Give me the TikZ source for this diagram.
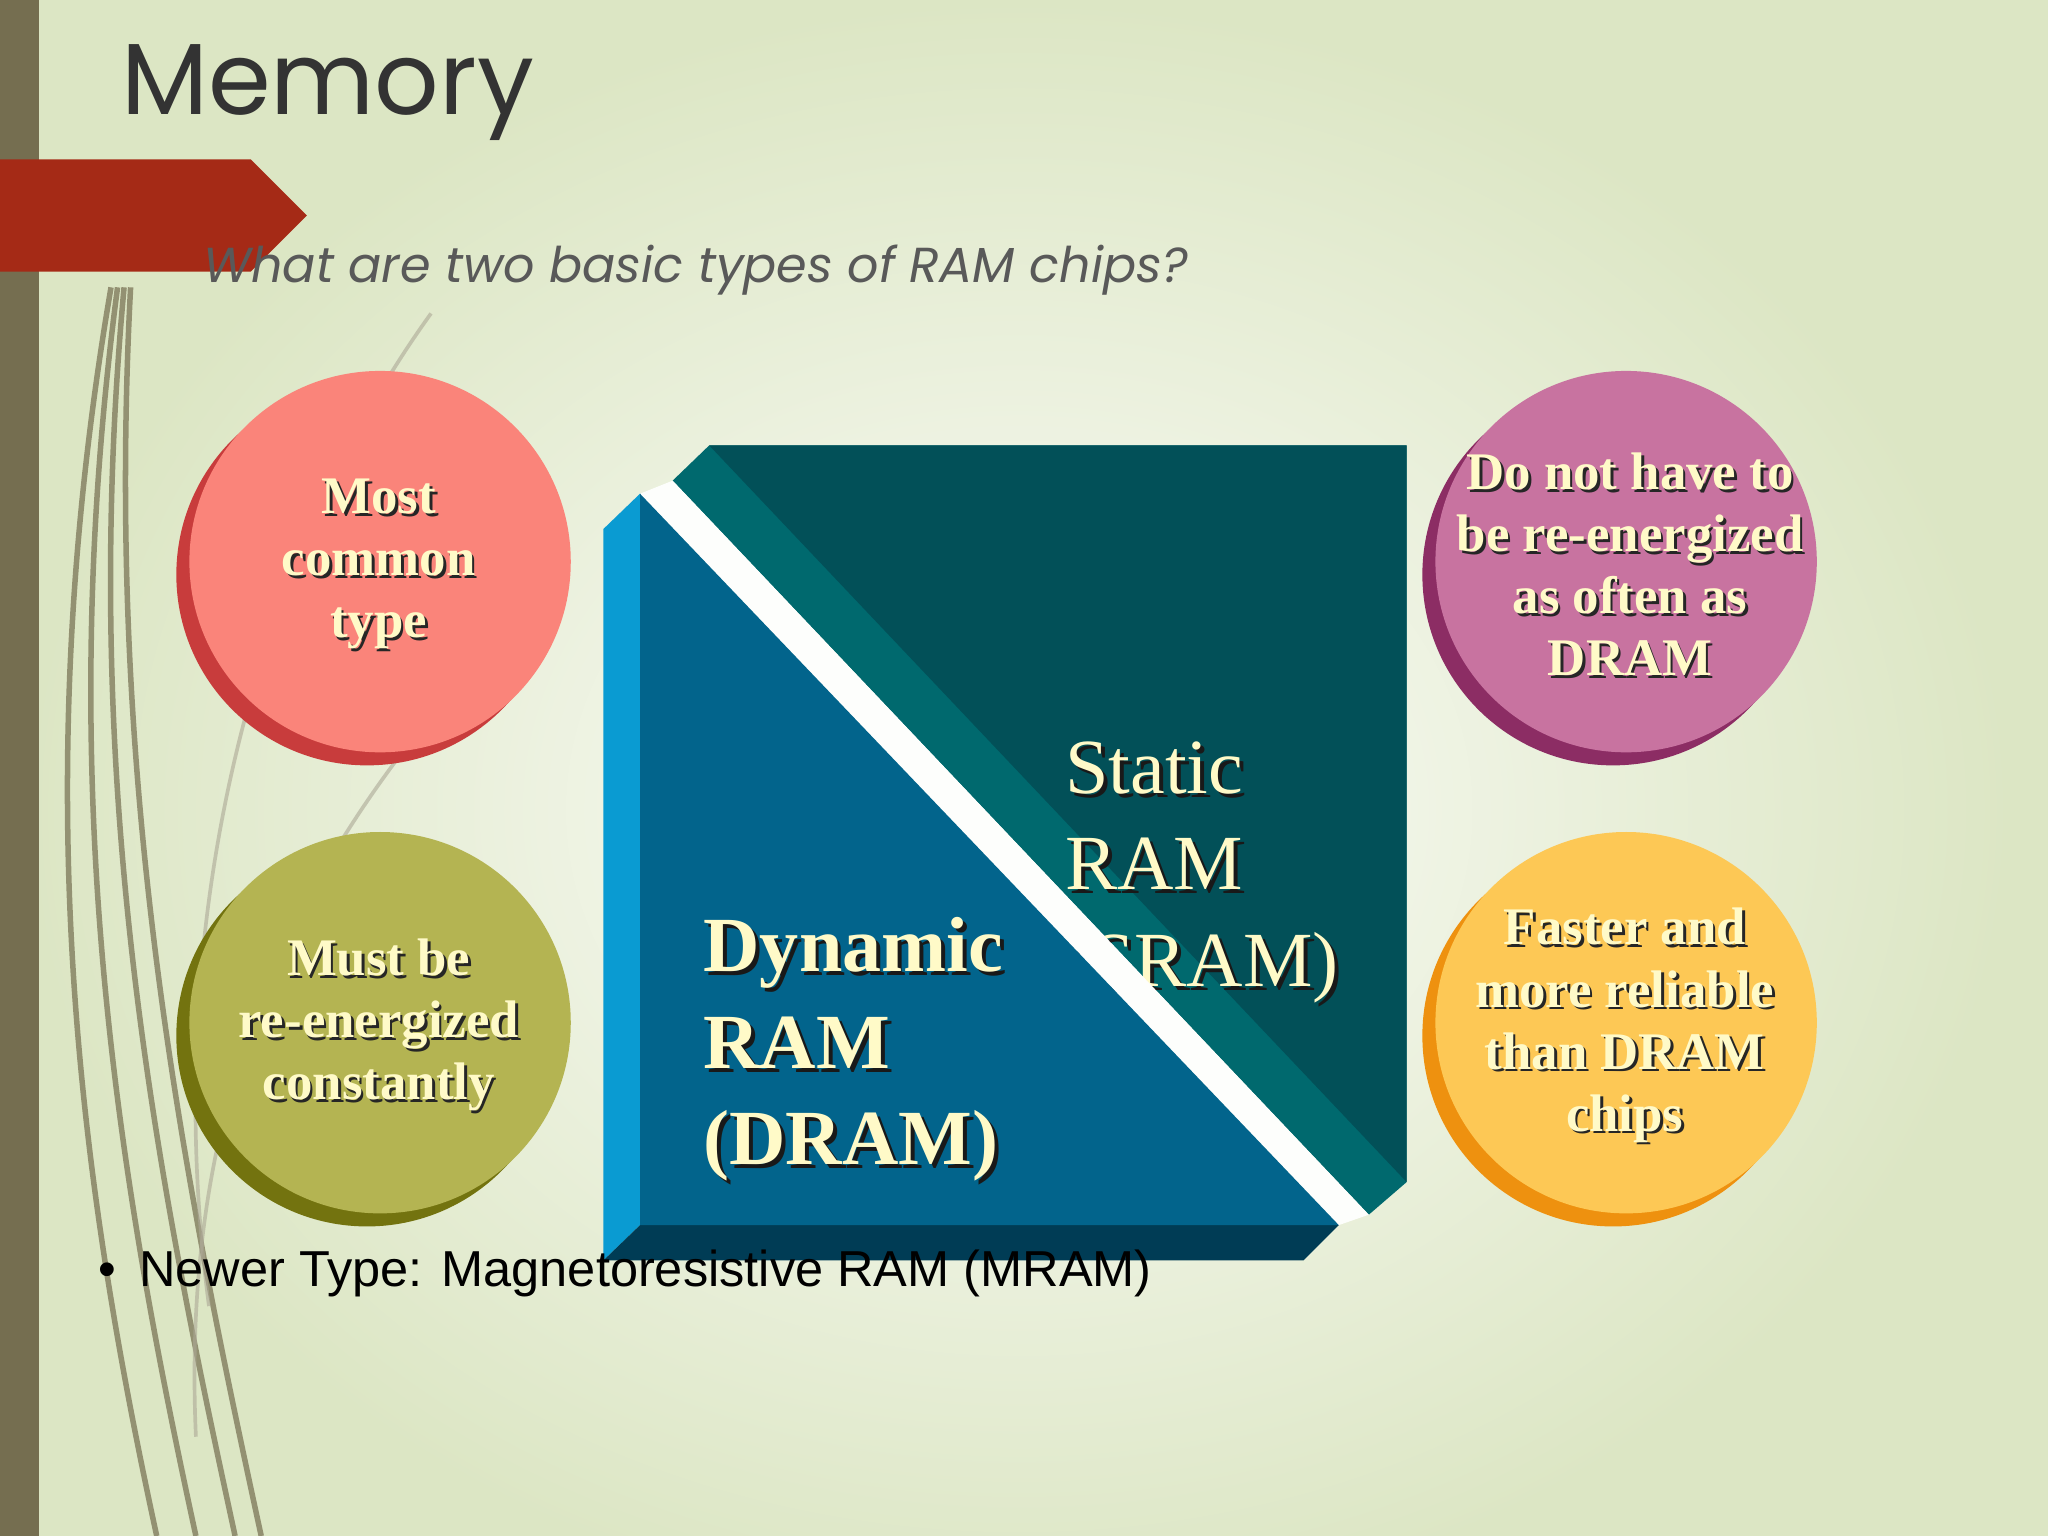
\documentclass[tikz,border=0pt]{standalone}
\usepackage{fontspec}
\setmainfont{Liberation Serif}
\setsansfont{Liberation Sans}
\newfontfamily\titlefont{Poppins}
\usetikzlibrary{shapes.geometric}
\definecolor{bgc}{RGB}{220,230,196}
\definecolor{barc}{RGB}{117,110,80}
\definecolor{redc}{RGB}{165,42,22}
\definecolor{cream}{RGB}{255,250,200}
\definecolor{pinkc}{RGB}{250,132,122}\definecolor{pinkd}{RGB}{200,60,60}
\definecolor{olc}{RGB}{180,180,82}\definecolor{old}{RGB}{115,115,15}
\definecolor{puc}{RGB}{200,115,160}\definecolor{pud}{RGB}{140,45,100}
\definecolor{yec}{RGB}{253,200,85}\definecolor{yed}{RGB}{238,145,15}
\definecolor{teal1}{RGB}{2,80,88}\definecolor{teal2}{RGB}{0,105,110}
\definecolor{blue1}{RGB}{2,100,140}\definecolor{blue2}{RGB}{10,155,210}\definecolor{blue3}{RGB}{0,60,85}
\tikzset{
 ct/.style={font=\bfseries\fontsize{11.5}{13.5}\selectfont, text=cream, align=center},
 cs/.style={font=\bfseries\fontsize{11.5}{13.5}\selectfont, text=black!85, align=center},
 bt/.style={font=\fontsize{17}{21}\selectfont, text=cream, align=left, anchor=north west, inner sep=0},
 bs/.style={font=\fontsize{17}{21}\selectfont, text=black!90, align=left, anchor=north west, inner sep=0},
}
\newcommand{\ballx}[5]{%
 \fill[#5] (#1+#2-7,#3+8) circle (146);
 \fill[#4] (#1+#2+3,#3-2) circle (146);}
\begin{document}
\begin{tikzpicture}[x=0.01cm,y=-0.01cm]
\useasboundingbox (0,0) rectangle (1568,1176);
\fill[bgc] (0,0) rectangle (1568,1176);
\shade[inner color=white!92!bgc, outer color=bgc] (780,620) ellipse (760 and 620);
% left strands
\foreach \a/\b/\c in {90/40/150, 85/20/120, 95/60/180, 100/80/200}{
 \draw[barc,line width=1.2pt,opacity=0.7] (\a,220) .. controls (\b,600) and (\c-60,900) .. (\c,1176);}
\draw[barc!60,line width=0.8pt,opacity=0.6] (330,240) .. controls (200,420) and (120,700) .. (160,1000);
\draw[barc!60,line width=0.8pt,opacity=0.6] (305,580) .. controls (200,720) and (140,880) .. (150,1100);
\fill[barc] (0,0) rectangle (30,1176);
\fill[redc] (0,122) -- (192,122) -- (235,165) -- (192,208) -- (0,208) -- cycle;
\node[anchor=base west,inner sep=0,font=\titlefont\fontsize{22}{26}\selectfont,text=black!80] (title) at (92,88) {Memory};
\node[anchor=base west,inner sep=0,font=\titlefont\itshape\fontsize{10.7}{13}\selectfont,text=black!65] (sub) at (155,216) {What are two basic types of RAM chips?};
% circles
\ballx{288}{0}{432}{pinkc}{pinkd}
\ballx{288}{0}{785}{olc}{old}
\ballx{1242}{0}{432}{puc}{pud}
\ballx{1242}{0}{785}{yec}{yed}
% teal triangle
\fill[teal2] (515,368) -- (543,341) -- (1077,341) -- (1077,905) -- (1048,930) -- cycle;
\fill[teal1] (543,341) -- (1077,341) -- (1077,905) -- cycle;
\node[bs] at (818,570) {Static\\RAM\\(SRAM)};
\node[bt] (sram) at (815,567) {Static\\RAM\\(SRAM)};
% white gap
\fill[white!95!bgc] (490,378) -- (515,368) -- (1048,930) -- (1025,938) -- cycle;
% blue triangle
\fill[blue2] (462,405) -- (490,378) -- (490,938) -- (462,965) -- cycle;
\fill[blue3] (462,965) -- (998,965) -- (1025,938) -- (490,938) -- cycle;
\fill[blue1] (490,378) -- (1025,938) -- (490,938) -- cycle;
% texts
\foreach \n/\x/\y/\t in {a/290/432/{Most\\common\\type}, b/290/785/{Must be\\re-energized\\constantly}, c/1248/432/{Do not have to\\be re-energized\\as often as\\DRAM}, d/1244/785/{Faster and\\more reliable\\than DRAM\\chips}}{
 \node[cs] at (\x+2,\y+2) {\t};
 \node[ct] (\n) at (\x,\y) {\t};}
\node[bs,font=\bfseries\fontsize{17}{21}\selectfont] at (541,705) {Dynamic\\RAM\\(DRAM)};
\node[bt,font=\bfseries\fontsize{17}{21}\selectfont] (dram) at (538,702) {Dynamic\\RAM\\(DRAM)};
\node[anchor=base west,inner sep=0,font=\sffamily\fontsize{11}{13}\selectfont] (newer) at (75,985) {\textbullet\hspace{0.45em}Newer Type: Magnetoresistive RAM (MRAM)};
\end{tikzpicture}
\end{document}
